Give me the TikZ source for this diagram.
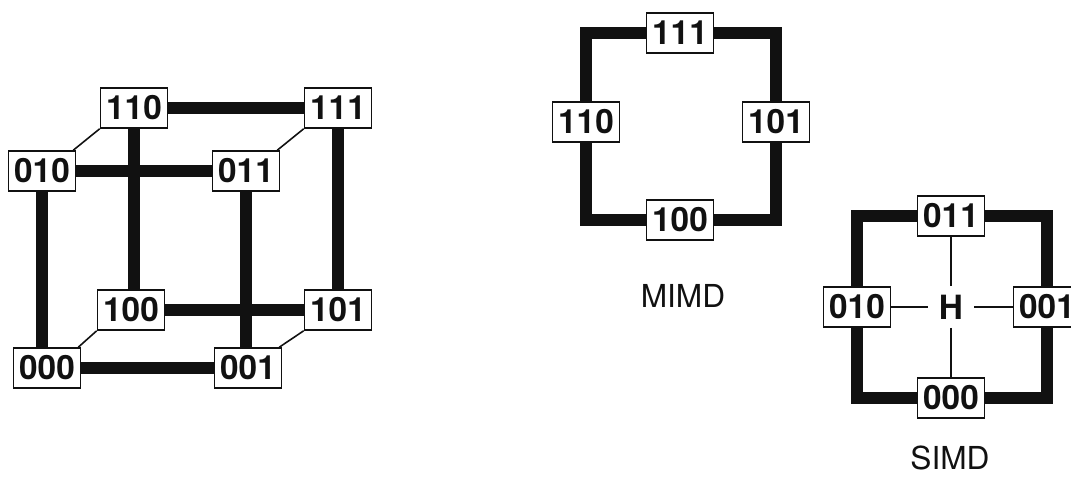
\documentclass[tikz,border=0pt]{standalone}
\usepackage{fontspec}
\setsansfont{TeX Gyre Heros}
\usepackage{xcolor}
\usepackage{tikz}
\usetikzlibrary{backgrounds}
\definecolor{ink}{HTML}{111111}

\begin{document}
\begin{tikzpicture}[
    pe/.style={draw=ink, line width=0.9pt, fill=white, inner sep=0pt,
      minimum width=1.34cm, minimum height=0.8cm,
      font=\sffamily\bfseries\fontsize{19}{19}\selectfont, text=ink},
    link/.style={ink, line width=6.8pt, line join=miter},
    wire/.style={ink, line width=0.9pt},
    caption/.style={font=\sffamily\fontsize{18}{18}\selectfont, text=ink}]
  \useasboundingbox (0,0) rectangle (21.42,9.54);

  % cube
  \node[pe] (c110) at (2.68,7.38) {110};
  \node[pe] (c111) at (6.76,7.38) {111};
  \node[pe] (c010) at (0.84,6.12) {010};
  \node[pe] (c011) at (4.92,6.12) {011};
  \node[pe] (c100) at (2.62,3.34) {100};
  \node[pe] (c101) at (6.76,3.34) {101};
  \node[pe] (c000) at (0.94,2.18) {000};
  \node[pe] (c001) at (4.96,2.18) {001};
  \begin{scope}[on background layer]
    \draw[link] (c110) -- (c111);
    \draw[link] (c100) -- (c101);
    \draw[link] (c000) -- (c001);
    \draw[link] (c110.south) -- (c110.south |- c100.north);
    \draw[link] (c111.south) -- (c111.south |- c101.north);
    \draw[link] (c010.south) -- (c010.south |- c000.north);
    \draw[link] (c011.south) -- (c011.south |- c001.north);
    \draw[link] (c010) -- (c011);
  \end{scope}
  \draw[wire] (c010.north east) ++(-0.06,0) -- (c110.south west);
  \draw[wire] (c011.north east) ++(-0.06,0) -- (c111.south west);
  \draw[wire] (c000.north east) ++(-0.06,0) -- (c100.south west);
  \draw[wire] (c001.north east) ++(-0.06,0) -- (c101.south west);

  % MIMD ring
  \node[pe] (m111) at (13.60,8.88) {111};
  \node[pe] (m110) at (11.72,7.10) {110};
  \node[pe] (m101) at (15.52,7.10) {101};
  \node[pe] (m100) at (13.60,5.14) {100};
  \begin{scope}[on background layer]
    \draw[link] (m111) -| (m110) |- (m100) -| (m101) |- (m111);
  \end{scope}
  \node[caption] (mimd) at (13.66,3.62) {MIMD};

  % SIMD ring
  \node[pe] (s011) at (19.02,5.22) {011};
  \node[pe] (s010) at (17.14,3.40) {010};
  \node[pe] (s001) at (20.94,3.40) {001};
  \node[pe] (s000) at (19.02,1.58) {000};
  \begin{scope}[on background layer]
    \draw[link] (s011) -| (s010) |- (s000) -| (s001) |- (s011);
  \end{scope}
  \node[pe, draw=none, fill=none, minimum width=0.9cm] (host) at (19.02,3.40) {H};
  \draw[wire] (host) -- (s011);
  \draw[wire] (host) -- (s010);
  \draw[wire] (host) -- (s001);
  \draw[wire] (host) -- (s000);
  \node[caption] (simd) at (19.0,0.38) {SIMD};
\end{tikzpicture}
\end{document}
